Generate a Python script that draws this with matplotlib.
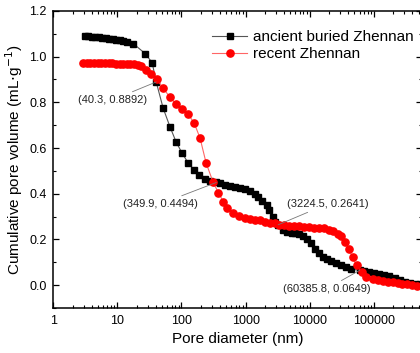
import numpy as np
import matplotlib
matplotlib.use("Agg")
import matplotlib.pyplot as plt

plt.rcParams['font.family'] = ['Liberation Sans', 'DejaVu Sans']

# ancient buried Zhennan (black squares)
ancient_d = [3.1, 3.5, 4.0, 4.5, 5.1, 5.8, 6.6, 7.5, 8.5, 9.6, 10.9, 12.4, 14.1,
             17.7, 27.2, 34.8, 40.3, 51.8, 66.5, 82.6, 102, 127, 158, 189, 235, 281,
             349.9, 400, 480, 577, 692, 830, 990, 1180, 1380, 1590, 1830, 2130,
             2360, 2640, 2900, 3224.5, 3890, 4470, 5230, 6000, 6900, 7900, 9100,
             10500, 12000, 13800, 16000, 18400, 21200, 25500, 30600, 36800, 44200,
             60385.8, 70600, 84700, 102000, 122000, 147000, 176000, 212000, 254000,
             305000, 366000, 440000, 530000]
ancient_v = [1.092, 1.090, 1.088, 1.086, 1.085, 1.083, 1.081, 1.079, 1.077, 1.075, 1.073, 1.070, 1.066,
             1.057, 1.013, 0.974, 0.8892, 0.774, 0.691, 0.626, 0.578, 0.535, 0.504, 0.483, 0.465, 0.457,
             0.4494, 0.445, 0.440, 0.435, 0.431, 0.427, 0.420, 0.410, 0.400, 0.387, 0.370, 0.350,
             0.330, 0.300, 0.278, 0.2641, 0.240, 0.232, 0.230, 0.228, 0.224, 0.215, 0.200,
             0.183, 0.160, 0.140, 0.125, 0.113, 0.105, 0.096, 0.088, 0.079, 0.070,
             0.0649, 0.060, 0.056, 0.052, 0.048, 0.043, 0.038, 0.030, 0.022,
             0.013, 0.008, 0.004, 0.003]

# recent Zhennan (red circles)
recent_d = [2.9, 3.3, 3.8, 4.3, 4.9, 5.6, 6.4, 7.3, 8.3, 9.5, 10.8, 12.3, 14.0, 16.0, 18.2, 20.7,
            23.5, 28.2, 33.6, 41.8, 51.8, 66.5, 82.6, 102, 127, 158, 195, 242, 310,
            377, 450, 520, 640, 800, 990, 1180, 1410, 1690, 2030, 2430, 2900, 3350,
            4000, 4800, 5760, 6900, 8200, 9900, 11800, 14200, 17000, 20400, 23500,
            27300, 30700, 35000, 40600, 47000, 54000, 65000, 77000, 96000, 116000,
            139000, 167000, 200000, 240000, 280000, 330000, 400000, 480000]
recent_v = [0.970, 0.970, 0.970, 0.970, 0.970, 0.970, 0.970, 0.970, 0.970, 0.969, 0.969, 0.969, 0.968, 0.967, 0.966, 0.963,
            0.957, 0.943, 0.926, 0.900, 0.861, 0.822, 0.791, 0.770, 0.748, 0.709, 0.643, 0.535, 0.452,
            0.404, 0.365, 0.339, 0.317, 0.304, 0.296, 0.291, 0.287, 0.283, 0.278, 0.274, 0.270, 0.265,
            0.265, 0.261, 0.260, 0.260, 0.256, 0.256, 0.252, 0.252, 0.248, 0.243, 0.235,
            0.226, 0.213, 0.190, 0.160, 0.122, 0.087, 0.057, 0.035, 0.026, 0.022,
            0.017, 0.013, 0.013, 0.009, 0.004, 0.004, 0.000, -0.004]

# labelled points and where their labels sit
marks = [(40.3, 0.8892), (349.9, 0.4494), (3224.5, 0.2641), (60385.8, 0.0649)]
mark_text_pos = [(8.3, 0.81), (46.5, 0.355), (18900, 0.355), (18200, -0.017)]

fig = plt.figure(figsize=(4.2, 3.53), dpi=100)
ax = fig.add_axes([0.127, 0.1275, 0.877, 0.8415])

ax.plot(ancient_d, ancient_v, color='#555555', lw=0.8, marker='s', ms=4.6,
        mfc='black', mec='black', label='ancient buried Zhennan')
ax.plot(recent_d, recent_v, color='#ff6666', lw=0.8, marker='o', ms=5.2,
        mfc='red', mec='red', label='recent Zhennan')

for (mx, my), (tx, ty) in zip(marks, mark_text_pos):
    ax.annotate('(%s, %s)' % (mx, my), xy=(mx, my), xytext=(tx, ty),
                ha='center', va='center', fontsize=8, color='#222222',
                arrowprops=dict(arrowstyle='-', color='#777777', lw=0.6,
                                shrinkA=1, shrinkB=0))

ax.set_xscale('log')
ax.set_xlim(1, 5.6e5)
ax.set_ylim(-0.1, 1.2)
ax.set_yticks([0.0, 0.2, 0.4, 0.6, 0.8, 1.0, 1.2])
ax.set_yticks(np.arange(-0.1, 1.2, 0.2), minor=True)
ax.set_xticks([1, 10, 100, 1000, 10000, 100000])
ax.set_xticklabels(['1', '10', '100', '1000', '10000', '100000'])
ax.tick_params(which='both', direction='in', top=True, right=True, labelsize=9)
ax.tick_params(which='major', length=4.5, width=0.9, pad=5)
ax.tick_params(which='minor', length=2.5, width=0.8)
for s in ax.spines.values():
    s.set_linewidth(1.1)

ax.set_xlabel('Pore diameter (nm)', fontsize=11, labelpad=4)
ax.set_ylabel('Cumulative pore volume (mL$\\cdot$g$^{-1}$)', fontsize=11, labelpad=3)

ax.legend(loc='upper left', bbox_to_anchor=(0.431, 0.935), frameon=False,
          fontsize=11, borderpad=0, handlelength=2.3, handletextpad=0.35,
          labelspacing=0.2, borderaxespad=0)

fig.savefig('out.png', dpi=100)
